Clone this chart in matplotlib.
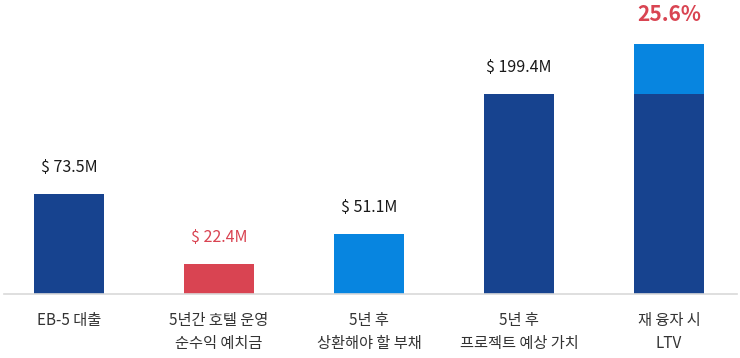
import matplotlib
matplotlib.use("Agg")
import matplotlib.pyplot as plt

plt.rcParams['font.family'] = ['Noto Sans CJK KR', 'DejaVu Sans']

categories = ["EB-5 대출", "5년간 호텔 운영\n순수익 예치금", "5년 후\n상환해야 할 부채",
              "5년 후\n프로젝트 예상 가치", "재 융자 시\nLTV"]
value_labels = ["$ 73.5M", "$ 22.4M", "$ 51.1M", "$ 199.4M", "25.6%"]
# bar heights as drawn in the picture (illustrative scale)
base_heights = [100, 30, 60, 200, 200]
stack_heights = [0, 0, 0, 0, 50]

DARK = "#17438f"
RED = "#d94452"
LIGHT = "#0785e0"
base_colors = [DARK, RED, LIGHT, DARK, DARK]
label_colors = ["#1a1a1a", RED, "#1a1a1a", "#1a1a1a", RED]

W, H = 740, 358
fig = plt.figure(figsize=(W / 100, H / 100), dpi=100)
left_px, right_px, base_px = 4, 737, 294
ax = fig.add_axes([left_px / W, (H - base_px) / H, (right_px - left_px) / W, base_px / H])

x = list(range(len(categories)))
ax.bar(x, base_heights, width=70 / 150, color=base_colors, zorder=2)
ax.bar(x, stack_heights, bottom=base_heights, width=70 / 150, color=LIGHT, zorder=2)

ax.set_xlim((left_px - 69) / 150, (right_px - 69) / 150)
ax.set_ylim(0, base_px)

for i, (lab, col) in enumerate(zip(value_labels, label_colors)):
    top = base_heights[i] + stack_heights[i]
    is_pct = lab.endswith('%')
    ax.annotate(lab, (i, top), xytext=(0, 19 if not is_pct else 21), textcoords='offset points',
                ha='center', va='center', color=col,
                fontsize=15 if is_pct else 11.5, fontweight='bold' if is_pct else 'medium')

for s in ['top', 'right', 'left']:
    ax.spines[s].set_visible(False)
ax.spines['bottom'].set_color('#d9d9d9')
ax.spines['bottom'].set_linewidth(1.2)
ax.set_yticks([])
ax.set_xticks(x)
ax.set_xticklabels(categories, fontsize=11, color='#333333', linespacing=1.45)
ax.tick_params(axis='x', length=0, pad=13)

fig.savefig("out.png", dpi=100)
